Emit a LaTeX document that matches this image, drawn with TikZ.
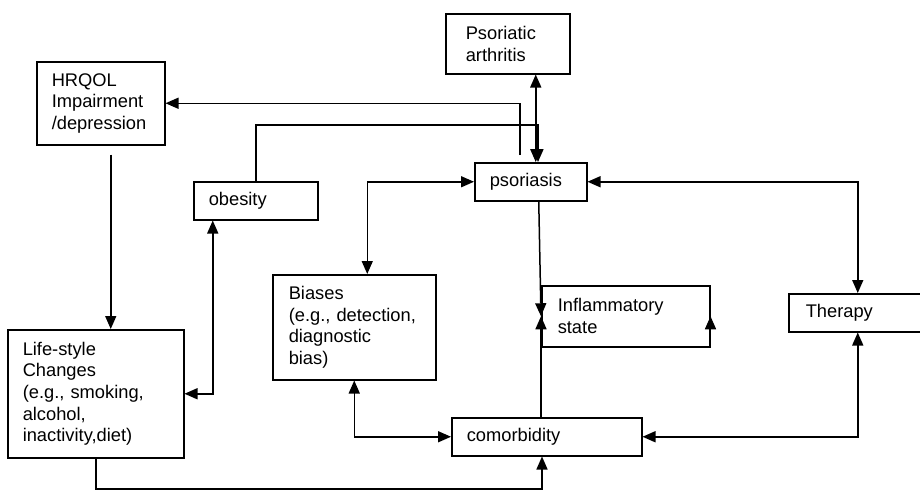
\documentclass[tikz,border=0pt]{standalone}
\usepackage{fontspec}
\setmainfont{Liberation Sans}
\usetikzlibrary{arrows.meta}
\tikzset{
  factor box/.style={
    draw,
    line width=1.5pt,
    anchor=north west,
    align=left,
    inner xsep=15pt,
    inner ysep=0pt,
    font=\fontsize{18.3pt}{21.6pt}\selectfont,
  },
  link/.style={
    line width=1.5pt,
    >={Triangle[length=13pt,width=11pt]},
  },
}

\begin{document}
\begin{tikzpicture}[x=1pt, y=-1pt]
      \useasboundingbox (0,0) rectangle (920,491);

      \node[factor box, text width=84pt, minimum height=60pt, inner xsep=20pt] (psa) at (445,13) {Psoriatic\\arthritis};
      \node[factor box, text width=98pt, minimum height=83pt] (hrqol) at (36,61) {HRQOL\\Impairment\\/depression};
      \node[factor box, text width=94pt, minimum height=38pt] (obesity) at (193,181) {obesity};
      \node[factor box, text width=82pt, minimum height=38pt] (psoriasis) at (474,162) {psoriasis};
      \node[factor box, text width=131pt, minimum height=105pt, inner xsep=16pt] (biases) at (272,274) {Biases\\(e.g., detection,\\diagnostic\\bias)};
      \node[factor box, text width=136pt, minimum height=61pt, inner xsep=16pt] (infl) at (541,285) {Inflammatory\\state};
      \node[factor box, text width=104pt, minimum height=38pt, inner xsep=17pt] (therapy) at (788,293) {Therapy};
      \node[factor box, text width=146pt, minimum height=128pt] (life) at (7,329) {Life-style\\Changes\\(e.g., smoking,\\alcohol,\\inactivity,diet)};
      \node[factor box, text width=160pt, minimum height=38pt] (comorb) at (451,417) {comorbidity};

      \coordinate (obtop) at (538,125);
      \coordinate (lowrun) at (542,489);

      \draw[link, ->] ([xshift=-11pt, yshift=7pt]psoriasis.north) |- (hrqol.east);
      \draw[link, ->] (obesity.north) |- (obtop) -- (obtop |- psoriasis.north);
      \draw[link, <->] ([xshift=28pt]psa.south) -- ([xshift=5pt]psoriasis.north);

      \draw[link, ->] ([xshift=10pt, yshift=-9pt]hrqol.south) -- ([xshift=15pt]life.north);
      \draw[link, <->] ([xshift=-43pt]obesity.south) |- (life.east);

      \draw[link, <->] ([xshift=13pt]biases.north) |- (psoriasis.west);
      \draw[link, <->] (biases.south) |- (comorb.west);

      \draw[link, ->] ([xshift=8pt]psoriasis.south) -- (infl.west);
      \draw[link, ->] (infl.west |- comorb.north) -- (infl.west);
      \draw[link, ->] ([yshift=8pt]infl.south east) -- (infl.east);

      \draw[link, <->] (psoriasis.east) -| (therapy.north);
      \draw[link, <->] (comorb.east) -| (therapy.south);

      \draw[link, ->] (life.south) |- (lowrun) -- (lowrun |- comorb.south);
\end{tikzpicture}
\end{document}
